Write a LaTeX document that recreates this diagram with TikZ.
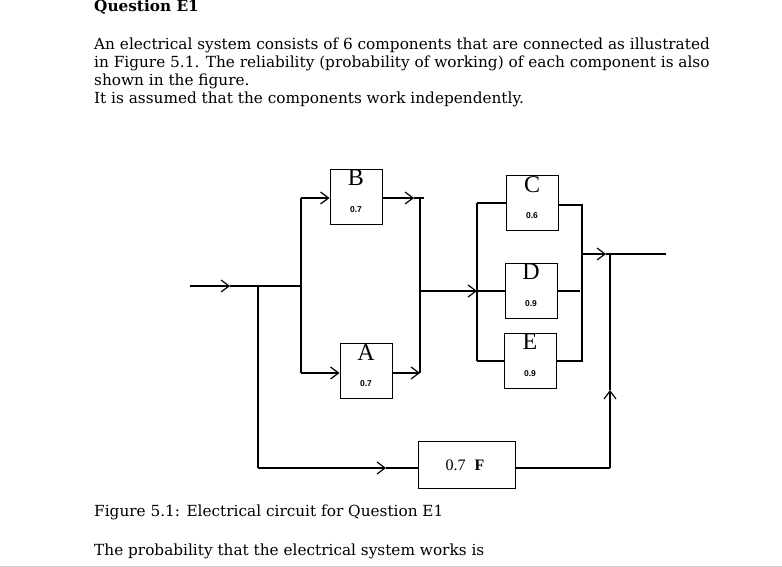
\documentclass[tikz,border=0pt]{standalone}
\usepackage{fontspec}
\setmainfont{DejaVu Serif}
\newfontfamily\tnr{Liberation Serif}
\newfontfamily\lsans{Liberation Sans}
\usetikzlibrary{arrows.meta}
\begin{document}
\begin{tikzpicture}[x=1pt,y=-1pt,
  wire/.style={line width=1.4pt},
  arr/.style={wire,-{Straight Barb[length=8pt,width=12pt,line width=1.2pt]}},
  comp/.style={draw,line width=1pt,minimum width=52pt,minimum height=55pt,inner sep=0pt},
  txt/.style={anchor=base west,inner sep=0pt,font=\fontsize{15.3}{17}\selectfont}]
\useasboundingbox (0,0) rectangle (782,567);
\node[txt,font=\bfseries\fontsize{15.3}{17}\selectfont] (q) at (94,12) {Question E1};
\node[txt] (l1) at (94,50) {An electrical system consists of 6 components that are connected as illustrated};
\node[txt] (l2) at (94,68) {in Figure 5.1. The reliability (probability of working) of each component is also};
\node[txt] (l3) at (94,86) {shown in the figure.};
\node[txt] (l4) at (94,104) {It is assumed that the components work independently.};
\node[txt] (cap) at (94,516) {Figure 5.1: Electrical circuit for Question E1};
\node[txt] (pr) at (94,555) {The probability that the electrical system works is};
\draw[gray!40,line width=1pt] (0,566) -- (782,566);
% boxes
\node[comp] (B) at (356,197) {};
\node[comp] (A) at (366,371) {};
\node[comp] (C) at (532,203) {};
\node[comp] (D) at (531,291) {};
\node[comp] (E) at (530,361) {};
\node[draw,line width=1.4pt,minimum width=97pt,minimum height=47pt,inner sep=0pt] (F) at (467,465) {};
\foreach \n/\l/\v in {B/B/0.7,A/A/0.7,C/C/0.6,D/D/0.9,E/E/0.9}{
  \node[anchor=north,inner sep=0pt,font=\tnr\fontsize{24}{24}\selectfont] (\n l) at ([yshift=-1pt]\n.north) {\l};
  \node[inner sep=0pt,font=\lsans\bfseries\fontsize{8.5}{9}\selectfont] (\n v) at ([yshift=-13pt]\n.center) {\v};
}
\node[inner sep=0pt,font=\tnr\fontsize{16}{16}\selectfont] (Fv) at ([xshift=-2pt]F.center) {0.7\hspace{9pt}\textbf{F}};
% coordinates
\coordinate (in0) at (190,286);
\coordinate (inA) at (230,286);
\coordinate (fj) at (258,286);
\coordinate (lb) at (301,286);
\coordinate (lbt) at (301,198);
\coordinate (lbb) at (301,373);
\coordinate (rbt) at (420,198);
\coordinate (rbb) at (420,373);
\coordinate (rbm) at (420,291);
\coordinate (mb) at (477,291);
\coordinate (mbt) at (477,203);
\coordinate (mbb) at (477,361);
\coordinate (ob) at (582,254);
\coordinate (obt) at (582,205);
\coordinate (obb) at (582,361);
\coordinate (oj) at (610,254);
\coordinate (out) at (666,254);
\coordinate (fb) at (258,468);
\coordinate (fr) at (610,468);
% wires
\draw[arr] (in0) -- (inA);
\draw[wire] (inA) -- (lb);
\draw[wire] (lbt) -- (lbb);
\draw[arr] (lbt) -- (lbt -| B.west);
\draw[arr] (lbt -| B.east) -- ([xshift=-6pt]rbt);
\draw[wire] ([xshift=-6pt]rbt) -- ([xshift=4pt]rbt);
\draw[arr] (lbb) -- (lbb -| A.west);
\draw[arr] (rbb -| A.east) -- (rbb);
\draw[wire] (rbt) -- (rbb);
\draw[arr] (rbm) -- (mb);
\draw[wire] (mbt) -- (mbb);
\draw[line width=2.6pt] (477,253) -- (477,323);
\draw[wire] (mbt) -- (C.west |- mbt);
\draw[wire] (mb) -- (D.west |- mb);
\draw[wire] (mbb) -- (E.west |- mbb);
\draw[wire] (C.east |- obt) -- (obt) -- (obb) -- (E.east |- obb);
\draw[wire] (D.east |- mb) -- (580,291);
\draw[arr] (ob) -- ([xshift=-4pt]oj);
\draw[wire] ([xshift=-4pt]oj) -- (out);
\draw[wire] (fj) -- (fb);
\draw[arr] (fb) -- (386,468);
\draw[wire] (386,468) -- (F.west |- fb);
\draw[wire] (F.east |- fr) -- (fr);
\draw[arr] (fr) -- (610,390);
\draw[wire] (610,390) -- (oj);
\end{tikzpicture}
\end{document}
